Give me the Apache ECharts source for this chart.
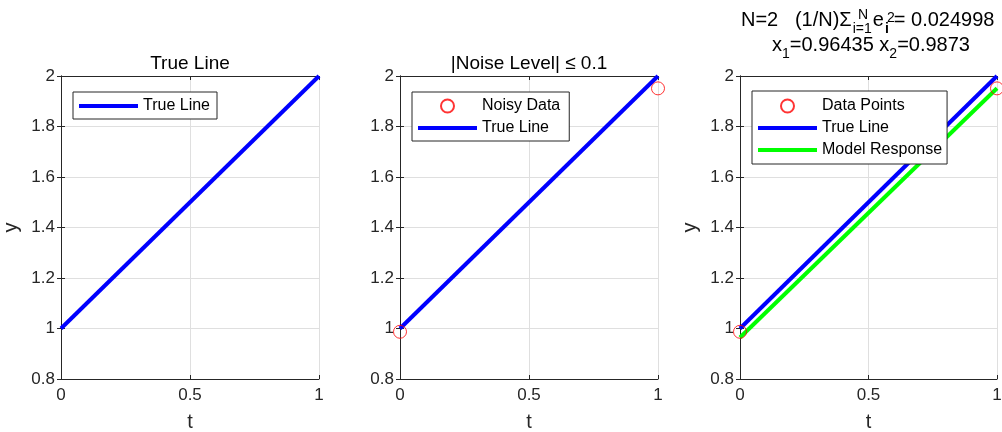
<!DOCTYPE html>
<html>
<head>
<meta charset="utf-8">
<script src="https://cdn.jsdelivr.net/npm/echarts@6/dist/echarts.min.js"></script>
<style>html,body{margin:0;padding:0;background:#fff}#c{width:1002px;height:432px}</style>
</head>
<body>
<div id="c"></div>
<script>
// ---- data ----
const tValues = [0, 1];
const trueLine = [1, 2];
const noisyData = [0.987, 1.951];
const modelResponse = [0.96435, 1.95165];
const xTicks = [0, 0.5, 1];
const yTicks = [0.8, 1, 1.2, 1.4, 1.6, 1.8, 2];
const titles = ['True Line', '|Noise Level| \u2264 0.1'];

const FONT = 'Liberation Sans, Arial, Helvetica, sans-serif';
const AX = '#262626';
const grids = [
  {left: 61, top: 76, width: 258, height: 303, outerBoundsMode: 'none', containLabel: false},
  {left: 400, top: 76, width: 258, height: 303, outerBoundsMode: 'none', containLabel: false},
  {left: 740, top: 76, width: 257, height: 303, outerBoundsMode: 'none', containLabel: false}
];
const pairs = (ys) => tValues.map((t, i) => [t, ys[i]]);

const xAxes = [], yAxes = [];
grids.forEach((g, gi) => {
  const common = {
    gridIndex: gi, min: xTicks[0], max: xTicks[xTicks.length - 1], interval: xTicks[1] - xTicks[0],
    axisLine: {show: true, lineStyle: {color: AX, width: 1}},
    axisTick: {show: true, inside: true, length: 4, lineStyle: {color: AX}}
  };
  xAxes.push(Object.assign({}, common, {
    type: 'value', position: 'bottom',
    name: 't', nameLocation: 'middle', nameGap: 33,
    nameTextStyle: {fontFamily: FONT, fontSize: 20, color: AX},
    axisLabel: {fontFamily: FONT, fontSize: 17, color: AX, margin: 8},
    splitLine: {show: true, lineStyle: {color: '#dfdfdf', width: 1}}
  }));
  xAxes.push(Object.assign({}, common, {
    type: 'value', position: 'top', axisLabel: {show: false}, splitLine: {show: false}
  }));
  const ycommon = {
    gridIndex: gi, min: yTicks[0], max: yTicks[yTicks.length - 1], interval: 0.2,
    axisLine: {show: true, lineStyle: {color: AX, width: 1}},
    axisTick: {show: true, inside: true, length: 4, lineStyle: {color: AX}}
  };
  yAxes.push(Object.assign({}, ycommon, {
    type: 'value', position: 'left',
    name: gi === 1 ? '' : 'y', nameLocation: 'middle', nameGap: 40,
    nameTextStyle: {fontFamily: FONT, fontSize: 20, color: AX},
    axisLabel: {fontFamily: FONT, fontSize: 17, color: AX, margin: 6,
      formatter: v => String(Math.round(v * 10) / 10)},
    splitLine: {show: true, lineStyle: {color: '#dfdfdf', width: 1}}
  }));
  yAxes.push(Object.assign({}, ycommon, {
    type: 'value', position: 'right', axisLabel: {show: false}, splitLine: {show: false}
  }));
});

const lineSeries = (name, gi, data, color) => ({
  type: 'line', name, xAxisIndex: gi * 2, yAxisIndex: gi * 2, data: pairs(data),
  symbol: 'none', lineStyle: {color, width: 4}, itemStyle: {color}, z: 3, animation: false
});
const scatterSeries = (name, gi, data) => ({
  type: 'scatter', name, xAxisIndex: gi * 2, yAxisIndex: gi * 2, data: pairs(data),
  symbol: 'circle', symbolSize: 13, clip: false,
  itemStyle: {color: 'rgba(0,0,0,0)', borderColor: '#ff0000', borderWidth: 1}, z: 4, animation: false
});

const LINE_ICON = 'path://M0,0H59V4H0Z';
const legendBase = {
  orient: 'vertical', backgroundColor: '#fff', borderColor: AX, borderWidth: 1,
  itemWidth: 59, itemHeight: 13, itemGap: 6, selectedMode: false,
  textStyle: {fontFamily: FONT, fontSize: 16, color: '#000'}
};
const lineItem = (name) => ({name, icon: LINE_ICON});
const dotItem = (name) => ({name, icon: 'circle'});

const titleStyle = {fontFamily: FONT, fontSize: 19, fontWeight: 'normal', color: '#000'};
const option = {
  animation: false,
  title: [
    {text: titles[0], left: 190, top: 54, padding: 0, textAlign: 'center', textStyle: titleStyle},
    {text: titles[1], left: 529, top: 54, padding: 0, textAlign: 'center', textStyle: titleStyle},
    {text: '{m|N=2   (1/N)\u03A3}{s|i=1}{m|e}{t|i}{m|= 0.024998}', left: 741, top: 4, padding: 0,
      textStyle: {fontFamily: FONT, fontSize: 20, fontWeight: 'normal', color: '#000',
        rich: {m: {fontFamily: FONT, fontSize: 20, lineHeight: 32, verticalAlign: 'middle'},
               s: {fontFamily: FONT, fontSize: 14, lineHeight: 15, verticalAlign: 'bottom', padding: [0, 1, 0, 1]},
               t: {fontFamily: FONT, fontSize: 14, fontWeight: 'bold', lineHeight: 15, verticalAlign: 'bottom', padding: [0, 5, 0, 1]}}}},
    {text: 'N', left: 858, top: 8, padding: 0,
      textStyle: {fontFamily: FONT, fontSize: 14, fontWeight: 'normal', color: '#000'}},
    {text: '2', left: 887, top: 11, padding: 0,
      textStyle: {fontFamily: FONT, fontSize: 14, fontWeight: 'normal', color: '#000'}},
    {text: '{m|x}{s|1}{m|=0.96435 x}{s|2}{m|=0.9873}', left: 871, top: 29, padding: 0, textAlign: 'center',
      textStyle: {fontFamily: FONT, fontSize: 20, fontWeight: 'normal', color: '#000',
        rich: {m: {fontFamily: FONT, fontSize: 20, lineHeight: 32, verticalAlign: 'middle'},
               s: {fontFamily: FONT, fontSize: 14, lineHeight: 9, verticalAlign: 'bottom'}}}}
  ],
  legend: [
    Object.assign({}, legendBase, {left: 73, top: 92, padding: [6, 7, 5, 6], data: [lineItem('True Line')]}),
    Object.assign({}, legendBase, {left: 412, top: 92, padding: [6, 9, 5, 6], data: [dotItem('Noisy Data'), lineItem('True Line')]}),
    Object.assign({}, legendBase, {left: 752, top: 91, padding: [7, 5, 6, 6], data: [dotItem('Data Points'), lineItem('True Line'), lineItem('Model Response')]})
  ],
  grid: grids,
  xAxis: xAxes,
  yAxis: yAxes,
  series: [
    lineSeries('True Line', 0, trueLine, '#0000ff'),
    scatterSeries('Noisy Data', 1, noisyData),
    lineSeries('True Line', 1, trueLine, '#0000ff'),
    scatterSeries('Data Points', 2, noisyData),
    lineSeries('True Line', 2, trueLine, '#0000ff'),
    lineSeries('Model Response', 2, modelResponse, '#00ff00')
  ]
};
const chart = echarts.init(document.getElementById('c'), null, {renderer: 'canvas'});
chart.setOption(option);
</script>
</body>
</html>
